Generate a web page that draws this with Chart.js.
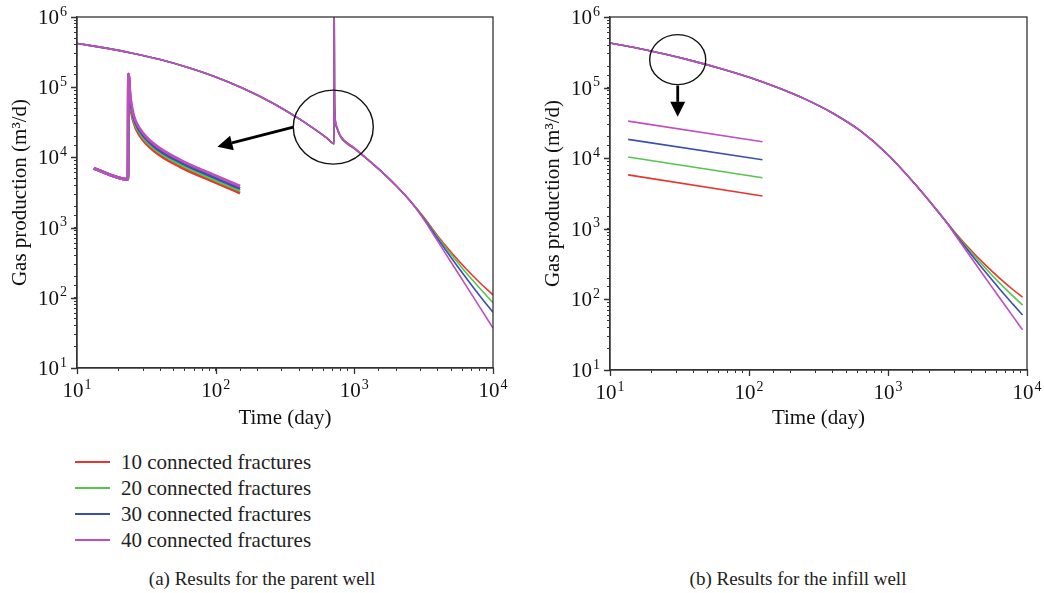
<!DOCTYPE html>
<html>
<head>
<meta charset="utf-8">
<title>Gas production vs time</title>
<script src="https://cdn.jsdelivr.net/npm/chart.js@4.4.0/dist/chart.umd.min.js"></script>
<style>
  html, body { margin: 0; padding: 0; background: #fff; }
  body {
    width: 1044px; height: 593px; position: relative; overflow: hidden;
    font-family: 'Liberation Serif', 'Times New Roman', serif; color: #222;
  }
  .panel { position: absolute; top: 0; height: 440px; }
  #panel-a { left: 0; width: 520px; }
  #panel-b { left: 530px; width: 514px; }
  .legend { position: absolute; left: 75px; top: 449px; }
  .legend-row { position: relative; width: 320px; height: 26px; line-height: 26px; font-size: 21px; }
  .legend-row .swatch { position: absolute; left: 0; top: 12px; width: 35px; height: 1.5px; }
  .legend-row span { position: absolute; left: 46px; white-space: nowrap; }
  .caption { position: absolute; top: 567px; font-size: 19px; line-height: 24px; white-space: nowrap; transform: translateX(-50%); }
</style>
</head>
<body>
<div class="panel" id="panel-a"><canvas id="parent-chart" width="520" height="440"></canvas></div>
<div class="panel" id="panel-b"><canvas id="infill-chart" width="514" height="440"></canvas></div>
<div class="legend" id="legend"></div>
<div class="caption" style="left:262px">(a) Results for the parent well</div>
<div class="caption" style="left:798px">(b) Results for the infill well</div>

<script>
// Series: number of connected fractures
const seriesLabels = ['10 connected fractures', '20 connected fractures', '30 connected fractures', '40 connected fractures'];
const seriesColors = ['#e8362e', '#55c64d', '#3b4fb0', '#c14ec1'];

// Labelled decades on each axis
const xDecades = [1e1, 1e2, 1e3, 1e4];
const yDecades = [1e1, 1e2, 1e3, 1e4, 1e5, 1e6];

// Parent well: time (day) and gas rate (m3/d)
const parentTime = [10, 15.85, 25.12, 39.81, 63.1, 100, 158.5, 251.2, 398.1, 501.2, 631, 715, 716, 719, 724,
  730, 750, 794, 1000, 1259, 1585, 1995, 2512, 3162, 3981, 5012, 6310, 7943, 10000];
const parent10 = [420000, 363000, 305000, 248000, 191000, 140000, 96000, 61100, 35600, 26300, 19000, 15700, 1000000, 80000, 42000,
  31500, 25700, 19600, 13300, 9230, 6170, 3980, 2430, 1413, 767, 442, 266, 168, 110];
const parent20 = [420000, 363000, 305000, 248000, 191000, 140000, 96000, 61100, 35600, 26300, 19000, 15700, 1000000, 80000, 42000,
  32000, 26200, 19900, 13400, 9230, 6170, 3980, 2430, 1390, 738, 409, 235, 140, 85];
const parent30 = [420000, 363000, 305000, 248000, 191000, 140000, 96000, 61100, 35600, 26300, 19000, 15700, 1000000, 80000, 42000,
  32500, 26700, 20200, 13550, 9230, 6170, 3980, 2430, 1361, 700, 370, 200, 110, 62];
const parent40 = [420000, 363000, 305000, 248000, 191000, 140000, 96000, 61100, 35600, 26300, 19000, 15700, 1000000, 80000, 42000,
  33000, 27200, 20400, 13650, 9230, 6170, 3980, 2430, 1318, 646, 316, 155, 76, 37];

// Parent well, enlarged view of the restart spike
const parentZoomTime = [13.2, 23.3, 23.5, 24.2, 25.6, 28.6, 35.7, 55.6, 96.6, 150];
const parentZoom10 = [6970, 4870, 153000, 60000, 32000, 20000, 12500, 7300, 4500, 3100];
const parentZoom20 = [6970, 4870, 153000, 65000, 34500, 21700, 13500, 7900, 4850, 3350];
const parentZoom30 = [6970, 4870, 153000, 70000, 37000, 23300, 14500, 8500, 5200, 3600];
const parentZoom40 = [6970, 4870, 153000, 76000, 40000, 25200, 15700, 9200, 5650, 3900];

// Infill well: time (day) and gas rate (m3/d)
const infillTime = [10, 15.85, 25.12, 39.81, 63.1, 100, 158.5, 251.2, 398.1, 631, 1000, 1585, 2512,
  3162, 3981, 5012, 6310, 7943, 9290];
const infill10 = [429000, 361000, 296000, 237000, 185000, 140000, 101000, 69200, 43700, 24500, 11200, 4170, 1400,
  809, 488, 308, 202, 137, 108];
const infill20 = [429000, 361000, 296000, 237000, 185000, 140000, 101000, 69200, 43700, 24500, 11200, 4170, 1400,
  791, 461, 279, 173, 111, 83];
const infill30 = [429000, 361000, 296000, 237000, 185000, 140000, 101000, 69200, 43700, 24500, 11200, 4170, 1400,
  767, 430, 246, 143, 85, 60];
const infill40 = [429000, 361000, 296000, 237000, 185000, 140000, 101000, 69200, 43700, 24500, 11200, 4170, 1400,
  735, 386, 203, 107, 57, 37];

// Infill well, enlarged view of the early period
const infillZoomTime = [13.5, 125];
const infillZoom10 = [5800, 2920];
const infillZoom20 = [10400, 5300];
const infillZoom30 = [18500, 9500];
const infillZoom40 = [33500, 17100];

const serif = "'Liberation Serif', 'Times New Roman', serif";

function points(xs, ys) {
    return xs.map((x, i) => ({ x: x, y: ys[i] }));
}

function lineSets(xs, seriesList, width) {
    return seriesList.map((ys, i) => ({
        label: seriesLabels[i],
        data: points(xs, ys),
        borderColor: seriesColors[i],
        borderWidth: width,
        pointRadius: 0,
        fill: false,
        cubicInterpolationMode: 'monotone',
        order: 3 - i   // 40 fractures drawn on top
    }));
}

// "10" with a raised exponent
function drawPower(ctx, value, x, y, align) {
    const exp = String(Math.round(Math.log10(value)));
    ctx.font = '21px ' + serif;
    const wBase = ctx.measureText('10').width;
    ctx.font = '14px ' + serif;
    const wExp = ctx.measureText(exp).width + 1;
    const total = wBase + wExp;
    const left = align === 'right' ? x - total : x - total / 2;
    ctx.textAlign = 'left';
    ctx.textBaseline = 'alphabetic';
    ctx.font = '21px ' + serif;
    ctx.fillText('10', left, y);
    ctx.font = '14px ' + serif;
    ctx.fillText(exp, left + wBase + 1, y - 8.5);
}

// Plot frame, decade labels, circled region and pointer arrow
const calloutPlugin = {
    id: 'callout',
    afterDatasetsDraw(chart, args, opts) {
        const { ctx, chartArea: a } = chart;
        const xs = chart.scales.x, ys = chart.scales.y;
        ctx.save();
        ctx.strokeStyle = '#333';
        ctx.lineWidth = 1.3;
        ctx.strokeRect(a.left, a.top, a.right - a.left, a.bottom - a.top);

        // longer marks at the decades
        ctx.beginPath();
        xDecades.forEach(v => {
            const px = Math.round(xs.getPixelForValue(v)) + 0.5;
            ctx.moveTo(px, a.bottom);
            ctx.lineTo(px, a.bottom + 6);
        });
        yDecades.forEach(v => {
            const py = Math.round(ys.getPixelForValue(v)) + 0.5;
            ctx.moveTo(a.left, py);
            ctx.lineTo(a.left - 6, py);
        });
        ctx.stroke();

        ctx.fillStyle = '#111';
        xDecades.forEach(v => drawPower(ctx, v, xs.getPixelForValue(v), a.bottom + 29, 'center'));
        yDecades.forEach(v => drawPower(ctx, v, a.left - 10, ys.getPixelForValue(v) + 7, 'right'));

        const c = opts.circle;
        ctx.beginPath();
        ctx.ellipse(xs.getPixelForValue(c.x), ys.getPixelForValue(c.y), c.rx, c.ry, 0, 0, Math.PI * 2);
        ctx.strokeStyle = '#111';
        ctx.lineWidth = 1.4;
        ctx.stroke();

        const ar = opts.arrow;
        const x0 = xs.getPixelForValue(ar.from[0]), y0 = ys.getPixelForValue(ar.from[1]);
        const x1 = xs.getPixelForValue(ar.to[0]), y1 = ys.getPixelForValue(ar.to[1]);
        const ang = Math.atan2(y1 - y0, x1 - x0);
        const headLen = 15, headW = 7.5;
        const bx = x1 - headLen * Math.cos(ang), by = y1 - headLen * Math.sin(ang);
        ctx.beginPath();
        ctx.moveTo(x0, y0);
        ctx.lineTo(bx, by);
        ctx.lineWidth = 2.8;
        ctx.strokeStyle = '#000';
        ctx.stroke();
        ctx.beginPath();
        ctx.moveTo(x1, y1);
        ctx.lineTo(bx - headW * Math.sin(ang), by + headW * Math.cos(ang));
        ctx.lineTo(bx + headW * Math.sin(ang), by - headW * Math.cos(ang));
        ctx.closePath();
        ctx.fillStyle = '#000';
        ctx.fill();
        ctx.restore();
    }
};

function makeChart(id, datasets, cfg) {
    const ctx = document.getElementById(id).getContext('2d');
    return new Chart(ctx, {
        type: 'line',
        data: { datasets: datasets },
        plugins: [calloutPlugin],
        options: {
            responsive: false,
            animation: false,
            layout: { padding: { left: 0, top: 17, right: cfg.padRight, bottom: 0 } },
            plugins: {
                legend: { display: false },
                tooltip: { enabled: false },
                callout: { circle: cfg.circle, arrow: cfg.arrow }
            },
            scales: {
                x: {
                    type: 'logarithmic',
                    min: 10,
                    max: 10000,
                    afterFit: function(scale) { scale.height = cfg.xHeight; },
                    grid: { drawOnChartArea: false, drawTicks: true, tickLength: 3, color: '#333' },
                    border: { color: '#333', width: 1.3 },
                    ticks: { display: false, autoSkip: false, maxRotation: 0 },
                    title: {
                        display: true,
                        text: 'Time (day)',
                        color: '#111',
                        font: { family: serif, size: 21 },
                        padding: { top: 0, bottom: 9 }
                    }
                },
                y: {
                    type: 'logarithmic',
                    min: 10,
                    max: 1000000,
                    afterFit: function(scale) { scale.width = cfg.yWidth; },
                    grid: { drawOnChartArea: false, drawTicks: true, tickLength: 3, color: '#333' },
                    border: { color: '#333', width: 1.3 },
                    ticks: { display: false, autoSkip: false },
                    title: {
                        display: true,
                        text: 'Gas production (m\u00b3/d)',
                        color: '#111',
                        font: { family: serif, size: 21 },
                        padding: { top: cfg.titleGap, bottom: 0 }
                    }
                }
            }
        }
    });
}

// (a) parent well
makeChart('parent-chart',
    lineSets(parentTime, [parent10, parent20, parent30, parent40], 1.6)
        .concat(lineSets(parentZoomTime, [parentZoom10, parentZoom20, parentZoom30, parentZoom40], 2.8)),
    {
        padRight: 27, xHeight: 72, yWidth: 77, titleGap: 8,
        circle: { x: 705, y: 27000, rx: 40, ry: 37 },
        arrow: { from: [363, 27000], to: [103, 14200] }
    });

// (b) infill well
makeChart('infill-chart',
    lineSets(infillTime, [infill10, infill20, infill30, infill40], 1.6)
        .concat(lineSets(infillZoomTime, [infillZoom10, infillZoom20, infillZoom30, infillZoom40], 1.6)),
    {
        padRight: 17, xHeight: 70, yWidth: 80, titleGap: 11,
        circle: { x: 30.7, y: 249000, rx: 28, ry: 25 },
        arrow: { from: [30.7, 107000], to: [30.7, 38500] }
    });

// Legend below panel (a)
const legend = document.getElementById('legend');
seriesLabels.forEach(function(label, i) {
    const row = document.createElement('div');
    row.className = 'legend-row';
    row.innerHTML = '<div class="swatch" style="background:' + seriesColors[i] + '"></div><span>' + label + '</span>';
    legend.appendChild(row);
});
</script>
</body>
</html>
